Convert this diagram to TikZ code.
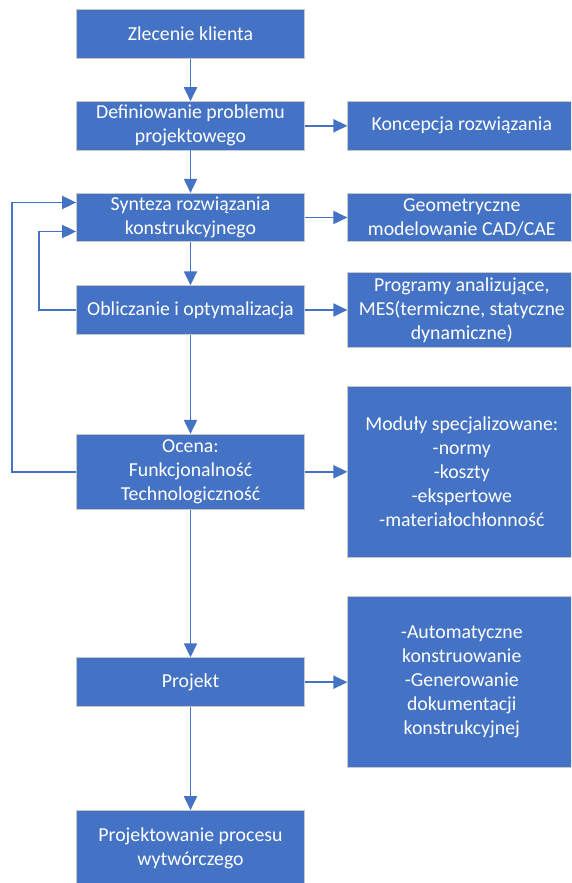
\documentclass[tikz,border=0pt]{standalone}
\usepackage{fontspec}
\setmainfont{Carlito}
\usetikzlibrary{arrows.meta}
\definecolor{boxblue}{HTML}{4472C4}
\definecolor{boxedge}{HTML}{C8C8C8}
\tikzset{
  box/.style={rectangle, fill=boxblue, draw=boxedge, line width=0.8pt,
    text=white, align=center, minimum width=228pt, inner sep=2pt,
    font=\fontsize{19.8}{24}\selectfont},
  arr/.style={draw=boxblue, line width=1.9pt,
    -{Triangle[length=14pt,width=13pt]}},
}
\begin{document}
\begin{tikzpicture}[x=1pt,y=-1pt]
\clip (0,0) rectangle (571,883);
\fill[white] (0,0) rectangle (571,883);
% left column
\node[box, minimum height=49pt] (b1) at (190.5,33.8) {Zlecenie klienta};
\node[box, minimum height=48.4pt] (b2) at (190.5,125.8) {Definiowanie problemu\\projektowego};
\node[box, minimum height=48.4pt] (b3) at (190.5,217.5) {Synteza rozwiązania\\konstrukcyjnego};
\node[box, minimum height=48.6pt] (b4) at (190.5,310) {Obliczanie i optymalizacja};
\node[box, minimum height=75pt] (b5) at (190.5,471.8) {Ocena:\\Funkcjonalność\\Technologiczność};
\node[box, minimum height=49pt] (b6) at (190.5,682.2) {Projekt};
\node[box, minimum height=75.5pt] (b7) at (190.5,848.3) {Projektowanie procesu\\wytwórczego};
% right column
\node[box, minimum height=48.4pt] (r1) at (461.8,125.8) {Koncepcja rozwiązania};
\node[box, minimum height=48.4pt] (r2) at (461.8,217.5) {Geometryczne\\modelowanie CAD/CAE};
\node[box, minimum height=75pt] (r3) at (461.8,310.2) {Programy analizujące,\\MES(termiczne, statyczne\\dynamiczne)};
\node[box, minimum height=170.6pt] (r4) at (461.8,472) {Moduły specjalizowane:\\-normy\\-koszty\\-ekspertowe\\-materiałochłonność};
\node[box, minimum height=170.6pt] (r5) at (461.8,682) {-Automatyczne\\konstruowanie\\-Generowanie\\dokumentacji\\konstrukcyjnej};
% vertical arrows
\draw[arr] (b1) -- (b2);
\draw[arr] (b2) -- (b3);
\draw[arr] (b3) -- (b4);
\draw[arr] (b4) -- (b5);
\draw[arr] (b5) -- (b6);
\draw[arr] (b6) -- (b7);
% horizontal arrows
\draw[arr] (b2.east) -- (b2.east -| r1.west);
\draw[arr] (b3.east) -- (b3.east -| r2.west);
\draw[arr] (b4.east) -- (b4.east -| r3.west);
\draw[arr] (b5.east) -- (b5.east -| r4.west);
\draw[arr] (b6.east) -- (b6.east -| r5.west);
% feedback loops
\coordinate (lo) at (12,0);
\coordinate (li) at (39,0);
\draw[arr] (b5.west) -- (b5.west -| lo) |- ([yshift=15pt]b3.west);
\draw[arr] (b4.west) -- (b4.west -| li) |- ([yshift=-14pt]b3.west);
\end{tikzpicture}
\end{document}
